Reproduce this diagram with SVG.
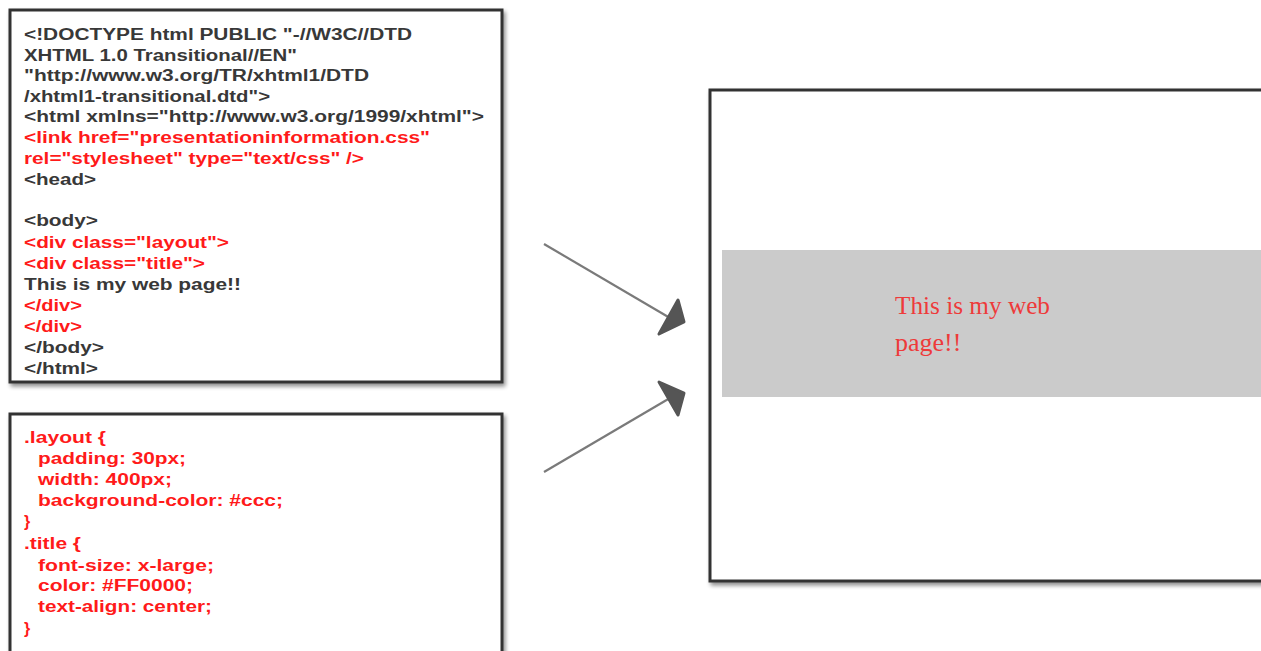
<svg xmlns="http://www.w3.org/2000/svg" width="1261" height="651" viewBox="0 0 1261 651">
<defs>
<filter id="sh" x="-5%" y="-5%" width="115%" height="115%">
<feGaussianBlur in="SourceAlpha" stdDeviation="2"/>
<feOffset dx="2" dy="3" result="b"/>
<feComponentTransfer><feFuncA type="linear" slope="0.45"/></feComponentTransfer>
<feMerge><feMergeNode/><feMergeNode in="SourceGraphic"/></feMerge>
</filter>
<marker id="ah" viewBox="0 0 10 10" refX="9" refY="5" markerWidth="10" markerHeight="10" markerUnits="userSpaceOnUse" orient="auto" overflow="visible">
</marker>
</defs>
<style>
.box{fill:#fff;stroke:#333;stroke-width:3;filter:url(#sh)}
.c{font-family:"Liberation Sans",Arial,sans-serif;font-weight:bold;font-size:16px}
.g{fill:#383838}
.r{fill:#ff1a1a}
.ln{stroke:#7a7a7a;stroke-width:2.2;fill:none}
.hd{fill:#555;stroke:#555;stroke-width:3;stroke-linejoin:round}
.out{font-family:"Liberation Serif","Times New Roman",serif;font-size:26px;fill:#ee3a3a}
</style>
<rect width="1261" height="651" fill="#fff"/>
<g id="html-code">
<rect class="box" x="10" y="10" width="492" height="372"/>
<g class="c">
<text class="g" x="24" y="40" textLength="388" lengthAdjust="spacingAndGlyphs">&lt;!DOCTYPE html PUBLIC "-//W3C//DTD</text>
<text class="g" x="24" y="61" textLength="273" lengthAdjust="spacingAndGlyphs">XHTML 1.0 Transitional//EN"</text>
<text class="g" x="24" y="81" textLength="345" lengthAdjust="spacingAndGlyphs">"http://www.w3.org/TR/xhtml1/DTD</text>
<text class="g" x="24" y="102" textLength="246" lengthAdjust="spacingAndGlyphs">/xhtml1-transitional.dtd"&gt;</text>
<text class="g" x="24" y="122" textLength="460" lengthAdjust="spacingAndGlyphs">&lt;html xmlns="http://www.w3.org/1999/xhtml"&gt;</text>
<text class="r" x="24" y="143" textLength="406" lengthAdjust="spacingAndGlyphs">&lt;link href="presentationinformation.css"</text>
<text class="r" x="24" y="164" textLength="340" lengthAdjust="spacingAndGlyphs">rel="stylesheet" type="text/css" /&gt;</text>
<text class="g" x="24" y="185" textLength="72" lengthAdjust="spacingAndGlyphs">&lt;head&gt;</text>
<text class="g" x="24" y="226" textLength="74" lengthAdjust="spacingAndGlyphs">&lt;body&gt;</text>
<text class="r" x="24" y="248" textLength="205" lengthAdjust="spacingAndGlyphs">&lt;div class="layout"&gt;</text>
<text class="r" x="24" y="269" textLength="181" lengthAdjust="spacingAndGlyphs">&lt;div class="title"&gt;</text>
<text class="g" x="24" y="290" textLength="217" lengthAdjust="spacingAndGlyphs">This is my web page!!</text>
<text class="r" x="24" y="311" textLength="58" lengthAdjust="spacingAndGlyphs">&lt;/div&gt;</text>
<text class="r" x="24" y="332" textLength="58" lengthAdjust="spacingAndGlyphs">&lt;/div&gt;</text>
<text class="g" x="24" y="353" textLength="80" lengthAdjust="spacingAndGlyphs">&lt;/body&gt;</text>
<text class="g" x="24" y="374" textLength="74" lengthAdjust="spacingAndGlyphs">&lt;/html&gt;</text>
</g>
</g>
<g id="css-code">
<rect class="box" x="10" y="414" width="492" height="260"/>
<g class="c r">
<text x="24" y="443" textLength="82" lengthAdjust="spacingAndGlyphs">.layout {</text>
<text x="38" y="464" textLength="148" lengthAdjust="spacingAndGlyphs">padding: 30px;</text>
<text x="38" y="485" textLength="134" lengthAdjust="spacingAndGlyphs">width: 400px;</text>
<text x="38" y="506" textLength="245" lengthAdjust="spacingAndGlyphs">background-color: #ccc;</text>
<text x="24" y="527">}</text>
<text x="24" y="549" textLength="57" lengthAdjust="spacingAndGlyphs">.title {</text>
<text x="38" y="571" textLength="176" lengthAdjust="spacingAndGlyphs">font-size: x-large;</text>
<text x="38" y="591" textLength="155" lengthAdjust="spacingAndGlyphs">color: #FF0000;</text>
<text x="38" y="612" textLength="174" lengthAdjust="spacingAndGlyphs">text-align: center;</text>
<text x="24" y="634">}</text>
</g>
</g>
<g id="browser-output">
<rect class="box" x="710" y="90" width="600" height="491"/>
<rect x="722" y="250" width="560" height="147" fill="#cbcbcb"/>
<text class="out" x="895" y="314" textLength="155" lengthAdjust="spacingAndGlyphs">This is my web</text>
<text class="out" x="895" y="351">page!!</text>
</g>
<g id="connectors">
<line class="ln" x1="544" y1="244" x2="670" y2="318"/>
<polygon class="hd" points="678,300 684,322 659,334"/>
<line class="ln" x1="544" y1="472" x2="670" y2="398"/>
<polygon class="hd" points="659,382 684,393 678,415"/>
</g>
</svg>
